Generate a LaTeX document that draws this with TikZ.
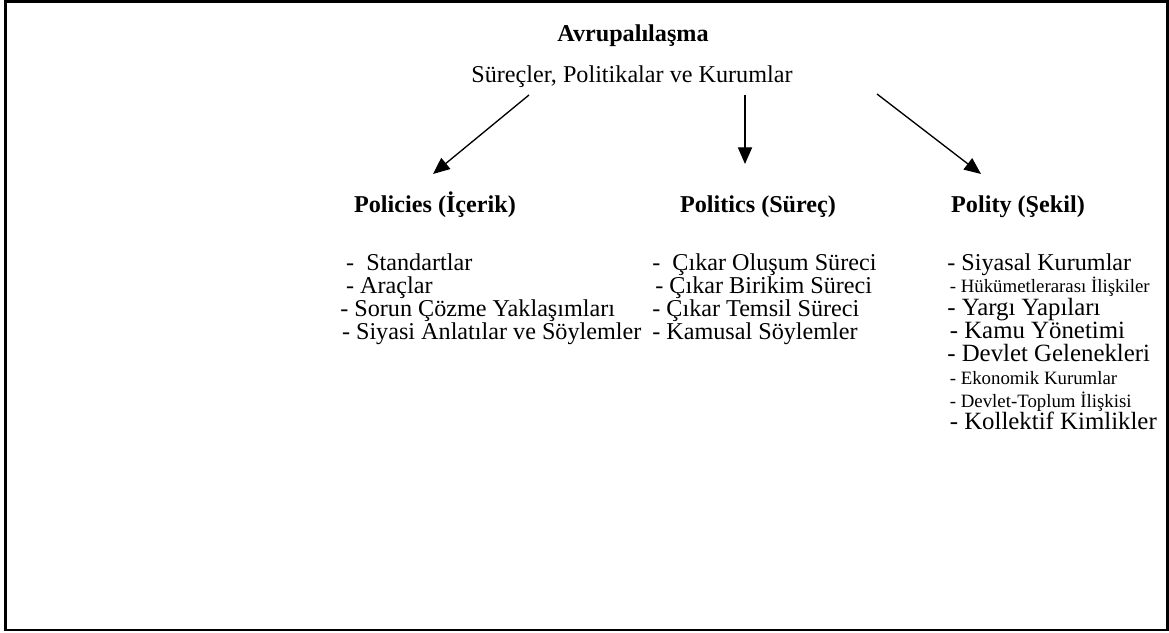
\documentclass[tikz,border=0pt]{standalone}
\usepackage{fontspec}
\setmainfont{Liberation Serif}
\usetikzlibrary{arrows.meta}

\tikzset{
  head/.style={font=\fontsize{14.5}{13.8}\selectfont\bfseries, inner sep=0pt, anchor=base},
  plain/.style={font=\fontsize{14.5}{13.8}\selectfont, inner sep=0pt},
  itemlist/.style={plain, align=left, anchor=north west},
  flow/.style={-{Triangle[length=10pt,width=8.5pt]}, line width=0.8pt},
}
\newcommand{\smallitem}[1]{{\fontsize{11.3}{13.5}\selectfont #1}}
\newcommand{\bigitem}[1]{{\fontsize{14.9}{13.5}\selectfont #1}}

\begin{document}
\begin{tikzpicture}[x=0.6pt, y=-0.6pt]
\useasboundingbox (0,0) rectangle (1169,633);
\fill[white] (0,0) rectangle (1169,633);
\draw[line width=1.6pt] (5.5,1.3) rectangle (1167.5,630);

\node[head] (euro) at (633,42) {Avrupalılaşma};
\node[plain, anchor=base] (spk) at (632,83) {Süreçler, Politikalar ve Kurumlar};

\node[head] (policies) at (435,213) {Policies (İçerik)};
\node[head] (politics) at (758,213) {Politics (Süreç)};
\node[head] (polity) at (1018,213) {Polity (Şekil)};

\coordinate (pol0) at (529,95);
\coordinate (pol1) at (433,174);
\coordinate (pts0) at (745,95);
\coordinate (pts1) at (745,164);
\coordinate (pty0) at (877,94);
\coordinate (pty1) at (981,174);
\draw[flow] (pol0) -- (pol1);
\draw[flow] (pts0) -- (pts1);
\draw[flow] (pty0) -- (pty1);

\node[itemlist] (policylist) at (340,253) {
    \hspace{3.5pt}-\ \ Standartlar\\
    \hspace{3.5pt}- Araçlar\\
    - Sorun Çözme Yaklaşımları\\
    \hspace{1pt}- Siyasi Anlatılar ve Söylemler};
\node[itemlist] (politicslist) at (652,253) {
    -\ \ Çıkar Oluşum Süreci\\
    \hspace{1.8pt}- Çıkar Birikim Süreci\\
    - Çıkar Temsil Süreci\\
    - Kamusal Söylemler};
\node[itemlist, font=\fontsize{14.5}{13.7}\selectfont] (politylist) at (947,253) {
    - Siyasal Kurumlar\\
    \hspace{1.5pt}\smallitem{- Hükümetlerarası İlişkiler}\\
    \bigitem{- Yargı Yapıları}\\
    \hspace{1.5pt}\bigitem{- Kamu Yönetimi}\\
    \bigitem{- Devlet Gelenekleri}\\
    \hspace{1.5pt}\smallitem{- Ekonomik Kurumlar}\\
    \hspace{1.5pt}\smallitem{- Devlet-Toplum İlişkisi}\\
    \hspace{1.5pt}\bigitem{- Kollektif Kimlikler}};
\end{tikzpicture}
\end{document}
